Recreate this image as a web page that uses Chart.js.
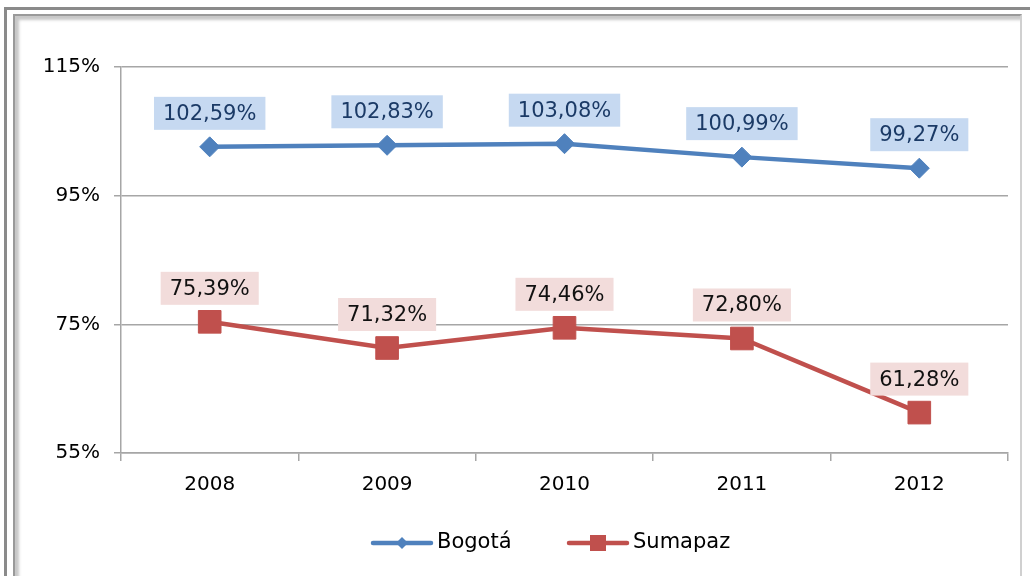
<!DOCTYPE html>
<html><head><meta charset="utf-8">
<script src="https://cdn.jsdelivr.net/npm/chart.js@4"></script>
<style>
html,body{margin:0;padding:0;background:#fff;width:1030px;height:576px;overflow:hidden;}
#outer{position:absolute;left:4px;top:7px;width:1040px;height:600px;border-left:3px solid #8a8a8a;border-top:3px solid #8a8a8a;}
#inner{position:absolute;left:13px;top:14px;width:1005px;height:600px;border-left:2px solid #9a9a9a;border-top:2px solid #9a9a9a;border-right:2px solid #d0d0d0;box-shadow:inset 4px 4px 3px #c8c8c8;}
canvas{position:absolute;left:0;top:0;}
</style>
</head><body>
<div id="outer"></div>
<div id="inner"></div>
<canvas id="c" width="1030" height="576"></canvas>
<script>
const categories = ['2008','2009','2010','2011','2012'];
const bogota = [102.59, 102.83, 103.08, 100.99, 99.27];
const sumapaz = [75.39, 71.32, 74.46, 72.80, 61.28];
const yTicks = [55, 75, 95, 115];
const seriesNames = ['Bogotá', 'Sumapaz'];

const FONT = 'DejaVu Sans';
const fmt = v => v.toFixed(2).replace('.', ',') + '%';

const labelPlugin = {
  id: 'boxLabels',
  afterDatasetsDraw(chart) {
    const ctx = chart.ctx;
    const styles = [
      {bg: '#c6d9f1', fg: '#1b3a66'},
      {bg: '#f2dcdb', fg: '#111111'}
    ];
    chart.data.datasets.forEach((ds, di) => {
      const meta = chart.getDatasetMeta(di);
      ctx.save();
      ctx.font = '21px "' + FONT + '"';
      ctx.textAlign = 'center';
      ctx.textBaseline = 'middle';
      meta.data.forEach((pt, i) => {
        const txt = fmt(ds.data[i]);
        const w = ctx.measureText(txt).width + 18;
        const h = 33;
        const bottom = pt.y - 17;
        ctx.fillStyle = styles[di].bg;
        ctx.fillRect(pt.x - w / 2, bottom - h, w, h);
        ctx.fillStyle = styles[di].fg;
        ctx.fillText(txt, pt.x, bottom - h / 2 + 1);
      });
      ctx.restore();
    });
  }
};

const legendPlugin = {
  id: 'customLegend',
  afterDraw(chart) {
    const ctx = chart.ctx;
    const y = 543;
    const items = [
      {x: 373, color: '#4f81bd', style: 'diamond', name: seriesNames[0]},
      {x: 569, color: '#c0504d', style: 'square', name: seriesNames[1]}
    ];
    ctx.save();
    items.forEach(it => {
      ctx.strokeStyle = it.color;
      ctx.lineWidth = 4.5;
      ctx.lineCap = 'round';
      ctx.beginPath();
      ctx.moveTo(it.x, y);
      ctx.lineTo(it.x + 58, y);
      ctx.stroke();
      ctx.fillStyle = it.color;
      const cx = it.x + 29;
      if (it.style === 'diamond') {
        ctx.beginPath();
        ctx.moveTo(cx - 6, y); ctx.lineTo(cx, y - 6); ctx.lineTo(cx + 6, y); ctx.lineTo(cx, y + 6);
        ctx.closePath(); ctx.fill();
      } else {
        ctx.fillRect(cx - 8, y - 8, 16, 16);
      }
      ctx.fillStyle = '#000';
      ctx.font = '21px "' + FONT + '"';
      ctx.textAlign = 'left';
      ctx.textBaseline = 'middle';
      ctx.fillText(it.name, it.x + 64, y);
    });
    ctx.restore();
  }
};

new Chart(document.getElementById('c'), {
  type: 'line',
  data: {
    labels: categories,
    datasets: [
      {
        label: seriesNames[0], data: bogota,
        borderColor: '#4f81bd', backgroundColor: '#4f81bd', borderWidth: 4.5,
        pointStyle: 'rectRot', pointRadius: 10, pointBorderWidth: 1,
        pointBackgroundColor: '#4f81bd', pointBorderColor: '#4f81bd', tension: 0
      },
      {
        label: seriesNames[1], data: sumapaz,
        borderColor: '#c0504d', backgroundColor: '#c0504d', borderWidth: 4.5,
        pointStyle: 'rect', pointRadius: 16, pointBorderWidth: 1,
        pointBackgroundColor: '#c0504d', pointBorderColor: '#c0504d', tension: 0
      }
    ]
  },
  options: {
    responsive: false,
    animation: false,
    devicePixelRatio: 1,
    layout: {padding: {top: 67, right: 22, left: 0, bottom: 0}},
    plugins: {legend: {display: false}, tooltip: {enabled: false}},
    scales: {
      x: {
        offset: true,
        grid: {offset: true, drawOnChartArea: false, drawTicks: true, tickLength: 8, color: '#a6a6a6', lineWidth: 1.5},
        border: {color: '#a6a6a6', width: 1.5},
        ticks: {padding: 12, color: '#000', font: {family: FONT, size: 20}},
        afterFit: s => { s.height = 123; }
      },
      y: {
        min: yTicks[0], max: yTicks[yTicks.length - 1],
        afterBuildTicks: s => { s.ticks = yTicks.map(v => ({value: v})); },
        grid: {color: '#a6a6a6', lineWidth: 1.5, drawTicks: true, tickLength: 7},
        border: {color: '#a6a6a6', width: 1.5},
        ticks: {padding: 14, color: '#000', font: {family: FONT, size: 20}, callback: v => v + '%'},
        afterFit: s => { s.width = 121; }
      }
    }
  },
  plugins: [labelPlugin, legendPlugin]
});
</script>
</body></html>
